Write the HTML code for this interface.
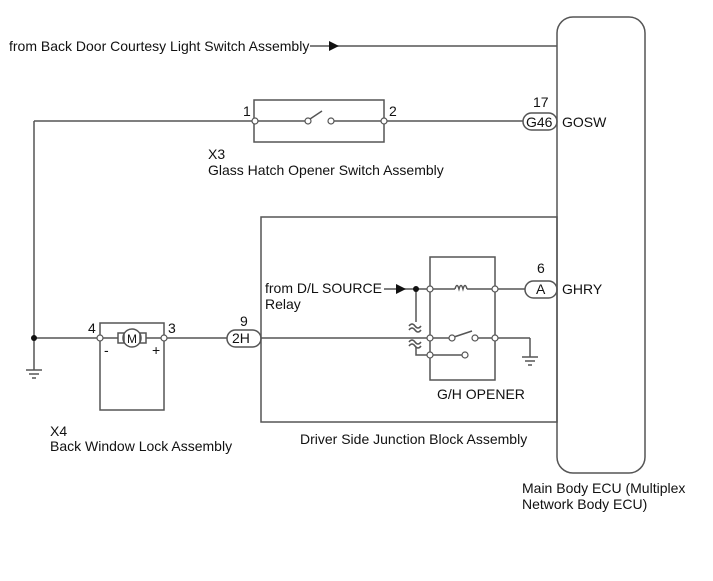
<!DOCTYPE html>
<html><head><style>body{margin:0;background:#fff}svg{display:block}text{font-family:"Liberation Sans",sans-serif;font-size:14px;fill:#111}</style></head><body>
<svg width="713" height="581" viewBox="0 0 713 581" xmlns="http://www.w3.org/2000/svg">
<g stroke="#555" stroke-width="1.5" fill="none">
<rect x="557" y="17" width="88" height="456" rx="16"/>
<line x1="310" y1="46" x2="557" y2="46"/>
<line x1="34" y1="121" x2="255" y2="121"/>
<line x1="255" y1="121" x2="305" y2="121"/>
<line x1="310" y1="119" x2="322" y2="111"/>
<line x1="333" y1="121" x2="384" y2="121"/>
<line x1="384" y1="121" x2="523" y2="121"/>
<rect x="254" y="100" width="130" height="42"/>
<line x1="34" y1="121" x2="34" y2="370"/>
<line x1="26" y1="370" x2="42" y2="370"/><line x1="29" y1="374" x2="39" y2="374"/><line x1="32" y1="378" x2="36" y2="378"/>
<rect x="261" y="217" width="296" height="205"/>
<rect x="100" y="323" width="64" height="87"/>
<line x1="34" y1="338" x2="118" y2="338"/>
<rect x="118" y="333" width="6" height="10"/><rect x="140" y="333" width="6" height="10"/>
<circle cx="132" cy="338" r="9"/>
<line x1="146" y1="338" x2="227" y2="338"/>
<line x1="261" y1="338" x2="430" y2="338"/>
<rect x="430" y="257" width="65" height="123"/>
<line x1="384" y1="289" x2="430" y2="289"/>
<line x1="430" y1="289" x2="455" y2="289"/>
<path d="M455 289 q2 -7 4 0 q2 -7 4 0 q2 -7 4 0"/>
<line x1="467" y1="289" x2="525" y2="289"/>
<line x1="416" y1="289" x2="416" y2="322"/>
<path d="M409 326 q3 -4 6 0 q3 4 6 0 M409 330 q3 -4 6 0 q3 4 6 0"/>
<path d="M409 342 q3 -4 6 0 q3 4 6 0 M409 346 q3 -4 6 0 q3 4 6 0"/>
<polyline points="416,347 416,355 430,355 465,355"/>
<line x1="430" y1="338" x2="452" y2="338"/>
<line x1="454" y1="337" x2="472" y2="331"/>
<line x1="475" y1="338" x2="530" y2="338"/>
<line x1="530" y1="338" x2="530" y2="357"/>
<line x1="522" y1="357" x2="538" y2="357"/><line x1="525" y1="361" x2="535" y2="361"/><line x1="528" y1="365" x2="532" y2="365"/>
<rect x="523" y="113" width="34" height="17" rx="8.5"/>
<rect x="227" y="330" width="34" height="17" rx="8.5"/>
<rect x="525" y="281" width="32" height="17" rx="8.5"/>
</g>
<g fill="#fff" stroke="#555" stroke-width="1.2">
<circle cx="255" cy="121" r="3"/><circle cx="384" cy="121" r="3"/><circle cx="308" cy="121" r="3"/><circle cx="331" cy="121" r="3"/>
<circle cx="100" cy="338" r="3"/><circle cx="164" cy="338" r="3"/>
<circle cx="430" cy="289" r="3"/><circle cx="495" cy="289" r="3"/>
<circle cx="430" cy="338" r="3"/><circle cx="452" cy="338" r="3"/><circle cx="475" cy="338" r="3"/><circle cx="495" cy="338" r="3"/>
<circle cx="430" cy="355" r="3"/><circle cx="465" cy="355" r="3"/>
</g>
<g fill="#111">
<polygon points="329,41 339,46 329,51"/>
<polygon points="396,284 406,289 396,294"/>
<circle cx="416" cy="289" r="3"/><circle cx="34" cy="338" r="3"/>
</g>
<text x="9" y="51">from Back Door Courtesy Light Switch Assembly</text>
<text x="243" y="116">1</text><text x="389" y="116">2</text>
<text x="533" y="107">17</text>
<text x="526" y="127">G46</text>
<text x="562" y="127">GOSW</text>
<text x="208" y="159">X3</text>
<text x="208" y="175">Glass Hatch Opener Switch Assembly</text>
<text x="265" y="293">from D/L SOURCE</text>
<text x="265" y="309">Relay</text>
<text x="537" y="273">6</text>
<text x="536" y="294">A</text>
<text x="562" y="294">GHRY</text>
<text x="240" y="326">9</text>
<text x="232" y="343">2H</text>
<text x="88" y="333">4</text><text x="168" y="333">3</text>
<text x="127" y="343" style="font-size:12px">M</text>
<text x="104" y="355">-</text><text x="152" y="355">+</text>
<text x="437" y="399">G/H OPENER</text>
<text x="300" y="444">Driver Side Junction Block Assembly</text>
<text x="50" y="436">X4</text>
<text x="50" y="451">Back Window Lock Assembly</text>
<text x="522" y="493">Main Body ECU (Multiplex</text>
<text x="522" y="509">Network Body ECU)</text>
</svg>
</body></html>
